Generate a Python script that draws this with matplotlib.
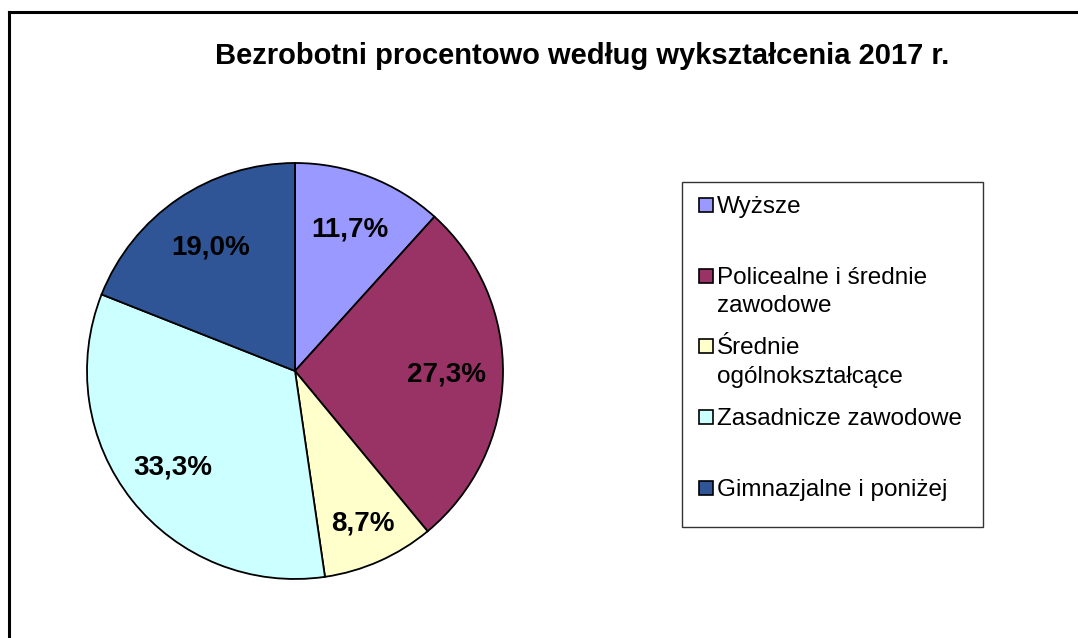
import matplotlib.pyplot as plt
import numpy as np
from matplotlib.lines import Line2D
from matplotlib.patches import Rectangle

# data
categories = [
    "Wyższe",
    "Policealne i średnie\nzawodowe",
    "Średnie\nogólnokształcące",
    "Zasadnicze zawodowe",
    "Gimnazjalne i poniżej",
]
values = [11.7, 27.3, 8.7, 33.3, 19.0]
colors = ["#9999FF", "#993366", "#FFFFCC", "#CCFFFF", "#2F5597"]
title = "Bezrobotni procentowo według wykształcenia 2017 r."

W, H = 1078, 638
plt.rcParams["font.family"] = ["Liberation Sans", "DejaVu Sans"]


def fx(px):
    return px / W


def fy(py):
    return 1 - py / H


def main():
    fig = plt.figure(figsize=(W / 100, H / 100), dpi=100)

    # outer frame (left and top edges only visible)
    fig.add_artist(Line2D([fx(9), fx(9)], [fy(12), fy(H)], color="black", lw=2.2))
    fig.add_artist(Line2D([fx(9), fx(W)], [fy(12), fy(12)], color="black", lw=2.2))

    fig.text(fx(582), fy(56), title, ha="center", va="center",
             fontsize=21, fontweight="bold")

    # pie centered at (295, 371), radius 208 px
    cx, cy, r = 295, 371, 208
    ax = fig.add_axes([fx(cx - r), fy(cy + r), 2 * r / W, 2 * r / H])
    wedges, texts, autotexts = ax.pie(
        values, colors=colors, startangle=90, counterclock=False,
        autopct=lambda p: f"{p:.1f}%".replace(".", ","), pctdistance=0.72,
        wedgeprops=dict(edgecolor="black", linewidth=1.3),
        textprops=dict(fontsize=20, fontweight="bold", color="black"),
    )
    # label distances as placed by the original (Excel) layout
    dists = [0.73, 0.73, 0.80, 0.75, 0.72]
    for w, t, d in zip(wedges, autotexts, dists):
        ang = np.deg2rad((w.theta1 + w.theta2) / 2)
        t.set_position((d * np.cos(ang), d * np.sin(ang)))
    ax.set_xlim(-1, 1)
    ax.set_ylim(-1, 1)
    ax.set_aspect("equal")
    ax.axis("off")

    # legend box
    fig.add_artist(Rectangle((fx(682), fy(527)), fx(983 - 682), (527 - 182) / H,
                             transform=fig.transFigure, facecolor="white",
                             edgecolor="#333333", lw=1))
    for i, (lab, col) in enumerate(zip(categories, colors)):
        yc = 205 + i * 70.7
        sq = 14
        fig.add_artist(Rectangle((fx(699), fy(yc + sq / 2)), sq / W, sq / H,
                                 transform=fig.transFigure, facecolor=col,
                                 edgecolor="black", lw=1.2))
        fig.text(fx(717), fy(yc - 9), lab, ha="left", va="top",
                 fontsize=17.5, linespacing=1.38)

    fig.savefig("out.png", dpi=100, facecolor="white")


if __name__ == "__main__":
    main()
